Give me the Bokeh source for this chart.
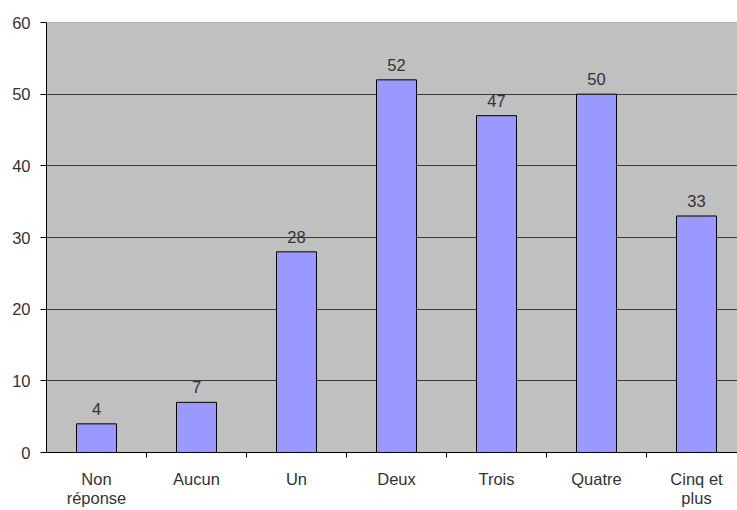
from bokeh.plotting import figure
from bokeh.models import Range1d, FixedTicker, ColumnDataSource, LabelSet, Span
from bokeh.core.properties import value
from bokeh.embed import file_html
from bokeh.resources import INLINE

categories = ["Non\nréponse", "Aucun", "Un", "Deux", "Trois", "Quatre", "Cinq et\nplus"]
values = [4, 7, 28, 52, 47, 50, 33]
y_ticks = [0, 10, 20, 30, 40, 50, 60]

FONT = "Liberation Sans"
FS = "16.5px"

xs = list(range(len(categories)))
source = ColumnDataSource(dict(x=xs, top=values, label=[str(v) for v in values]))

p = figure(width=737, height=510, output_backend="svg", toolbar_location=None,
           x_range=Range1d(-0.5, 6.41), y_range=Range1d(0, 60),
           min_border_left=46, min_border_top=22, min_border_right=0, min_border_bottom=54)
p.background_fill_color = "#C0C0C0"
p.border_fill_color = "white"
p.outline_line_color = None

# gridlines
p.xgrid.grid_line_color = None
p.ygrid.ticker = FixedTicker(ticks=y_ticks[1:-1])
p.ygrid.grid_line_color = "#3a3a3a"
p.ygrid.grid_line_width = 1.2
p.add_layout(Span(location=60, dimension="width", line_color="#808080", line_width=1))

p.vbar(x="x", top="top", width=0.4, bottom=0, source=source,
       fill_color="#9999FF", line_color="black", line_width=1)

labels = LabelSet(x="x", y="top", text="label", source=source, text_align="center",
                  text_baseline="bottom", y_offset=9, text_font=value(FONT),
                  text_font_size=value(FS), text_color=value("#333333"))
p.add_layout(labels)

# y axis
p.yaxis.ticker = FixedTicker(ticks=y_ticks)
p.yaxis.major_tick_out = 6
p.yaxis.major_tick_in = 0
p.yaxis.minor_tick_line_color = None
p.yaxis.axis_line_color = "black"
p.yaxis.major_tick_line_color = "black"
p.yaxis.major_label_standoff = 10
p.yaxis.major_label_text_font = FONT
p.yaxis.major_label_text_font_size = FS
p.yaxis.major_label_text_color = "#333333"

# x axis
p.xaxis.ticker = FixedTicker(ticks=xs, minor_ticks=[i + 0.5 for i in xs[:-1]])
p.xaxis.major_tick_line_color = None
p.xaxis.major_tick_out = 4
p.xaxis.major_tick_in = 0
p.xaxis.minor_tick_line_color = "black"
p.xaxis.minor_tick_out = 5
p.xaxis.minor_tick_in = 0
p.xaxis.axis_line_color = "black"
p.xaxis.major_label_overrides = {i: c for i, c in zip(xs, categories)}
p.xaxis.major_label_standoff = 12
p.xaxis.major_label_text_font = FONT
p.xaxis.major_label_text_font_size = FS
p.xaxis.major_label_text_color = "#333333"
p.xaxis.major_label_text_line_height = 1.1

open("out.html", "w").write(file_html(p, INLINE))
